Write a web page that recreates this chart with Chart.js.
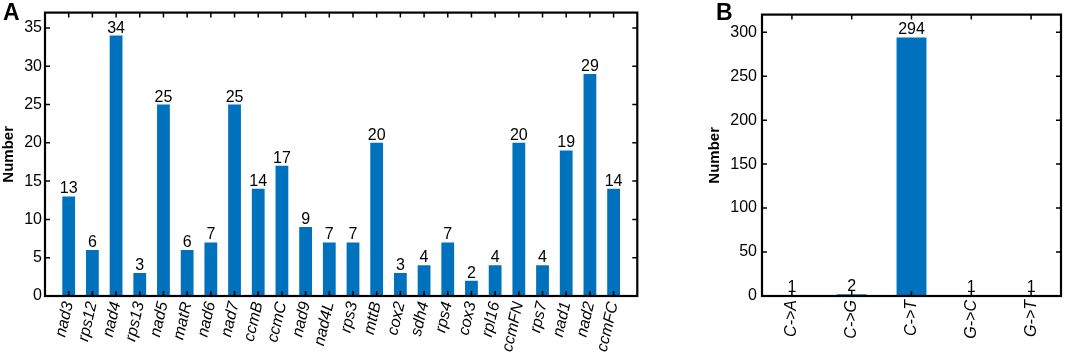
<!DOCTYPE html>
<html><head>
<meta charset="utf-8">
<script src="https://cdn.jsdelivr.net/npm/chart.js"></script>
<style>
body{margin:0;background:#fff;width:1065px;height:353px;overflow:hidden;position:relative;font-family:"Liberation Sans",Arial,sans-serif;}
#wa{position:absolute;left:0;top:0;width:660px;height:353px;}
#wb{position:absolute;left:690px;top:0;width:375px;height:353px;}
.pl{position:absolute;font-weight:bold;font-size:23px;line-height:1;color:#000;}
</style></head><body>
<div id="wa"><canvas id="ca"></canvas></div>
<div id="wb"><canvas id="cb"></canvas></div>
<div class="pl" style="left:3px;top:1px">A</div>
<div class="pl" style="left:716px;top:1px">B</div>
<script>
const genes = ['nad3','rps12','nad4','rps13','nad5','matR','nad6','nad7','ccmB','ccmC','nad9','nad4L','rps3','mttB','cox2','sdh4','rps4','cox3','rpl16','ccmFN','rps7','nad1','nad2','ccmFC'];
const geneCounts = [13,6,34,3,25,6,7,25,14,17,9,7,7,20,3,4,7,2,4,20,4,19,29,14];
const subTypes = ['C->A','C->G','C->T','G->C','G->T'];
const subCounts = [1,2,294,1,1];
const yTicksA = [0,5,10,15,20,25,30,35];
const yTicksB = [0,50,100,150,200,250,300];

const BLUE = '#0072BD';
const FONT = '"Liberation Sans", Arial, sans-serif';

const framePlugin = {
  id: 'frame',
  afterDatasetsDraw(chart, args, opts) {
    const ctx = chart.ctx;
    const {left, right, top, bottom} = chart.chartArea;
    const xs = chart.scales.x, ys = chart.scales.y;
    ctx.save();
    // data labels
    ctx.fillStyle = '#000';
    ctx.font = '16px ' + FONT;
    ctx.textAlign = 'center';
    ctx.textBaseline = 'alphabetic';
    const meta = chart.getDatasetMeta(0);
    const data = chart.data.datasets[0].data;
    meta.data.forEach((el, i) => {
      const v = data[i];
      if (v === null || v === undefined) return;
      ctx.fillText(String(v), el.x, el.y - 3);
    });
    // ticks
    ctx.strokeStyle = '#000';
    ctx.lineWidth = 1.5;
    const tl = 5;
    ctx.beginPath();
    ys.ticks.forEach(t => {
      const y = ys.getPixelForValue(t.value);
      if (Math.abs(y - bottom) < 1 || Math.abs(y - top) < 1) return;
      ctx.moveTo(left, y); ctx.lineTo(left + tl, y);
      ctx.moveTo(right, y); ctx.lineTo(right - tl, y);
    });
    chart.data.labels.forEach((lab, i) => {
      if (lab === '') return;
      const x = xs.getPixelForValue(i);
      ctx.moveTo(x, bottom); ctx.lineTo(x, bottom - tl);
      ctx.moveTo(x, top); ctx.lineTo(x, top + tl);
    });
    ctx.stroke();
    // frame
    ctx.lineWidth = 2.2;
    ctx.strokeRect(left, top, right - left, bottom - top);
    ctx.restore();
  }
};

Chart.defaults.font.family = FONT;
Chart.defaults.color = '#000';

function makeChart(id, labels, values, yMax, yTicks, opt) {
  return new Chart(document.getElementById(id), {
    type: 'bar',
    data: {
      labels: labels,
      datasets: [{
        data: values,
        backgroundColor: BLUE,
        borderWidth: 0,
        barPercentage: opt.barPct,
        categoryPercentage: 1.0
      }]
    },
    options: {
      responsive: true,
      maintainAspectRatio: false,
      animation: false,
      events: [],
      layout: {padding: {left: 0, right: opt.padRight, top: 3, bottom: 0}},
      plugins: {legend: {display: false}, tooltip: {enabled: false}},
      scales: {
        x: {
          type: 'category',
          offset: opt.offset,
          grid: {display: false, drawTicks: false},
          border: {display: false},
          ticks: {
            autoSkip: false,
            minRotation: opt.rot, maxRotation: opt.rot,
            padding: opt.xPad,
            font: {size: 16, style: 'italic'},
            color: '#000'
          },
          afterFit(s) { s.height = opt.xHeight; }
        },
        y: {
          min: 0, max: yMax,
          grid: {display: false, drawTicks: false},
          border: {display: false},
          afterBuildTicks(s) { s.ticks = yTicks.map(v => ({value: v})); },
          ticks: {padding: opt.yPad, font: {size: 16}, color: '#000'},
          title: {display: true, text: 'Number', font: {size: 15, weight: 'bold'}, color: '#000', padding: {top: opt.titlePad, bottom: 0}},
          afterFit(s) { s.width = opt.yWidth; }
        }
      }
    },
    plugins: [framePlugin]
  });
}

makeChart('ca', [''].concat(genes, ['']), [null].concat(geneCounts, [null]), 37, yTicksA,
  {barPct: 0.54, padRight: 15, offset: false, rot: 77, xPad: 4, xHeight: 57, yWidth: 45, yPad: 3, titlePad: 0});
makeChart('cb', subTypes, subCounts, 320, yTicksB,
  {barPct: 0.5, padRight: 4, offset: true, rot: 90, xPad: 4, xHeight: 57, yWidth: 72, yPad: 5, titlePad: 16});
</script>
</body></html>
